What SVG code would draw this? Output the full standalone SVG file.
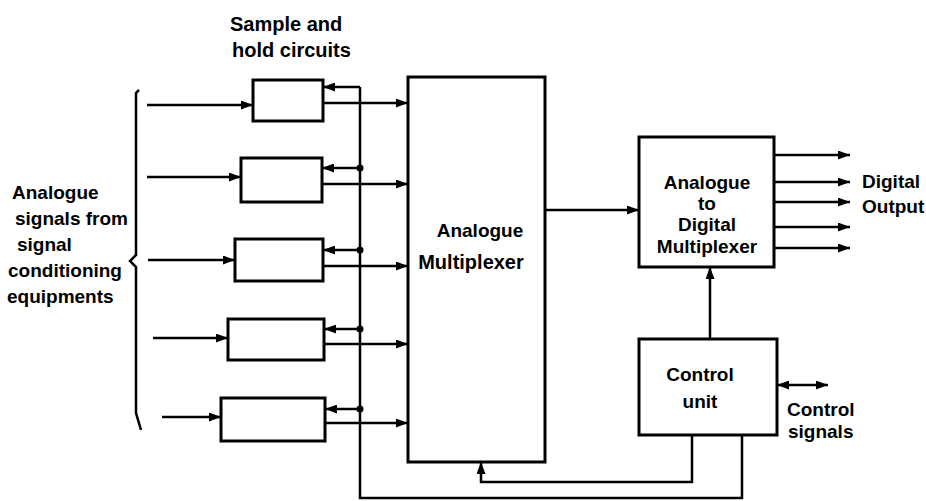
<svg xmlns="http://www.w3.org/2000/svg" width="926" height="501" viewBox="0 0 926 501">
<style>
.box{fill:#fff;stroke:#000;stroke-width:3}
.ln{fill:none;stroke:#000;stroke-width:2.5}
.ar{marker-end:url(#ah)}
text{font-family:"Liberation Sans",Arial,sans-serif;font-weight:bold;font-size:19px;fill:#000}
.c{text-anchor:middle}
.big{font-size:20px}
</style>
<defs>
<marker id="ah" markerUnits="userSpaceOnUse" markerWidth="13" markerHeight="9" refX="12" refY="4.5" orient="auto">
<path d="M0,0 L12,4.5 L0,9 z" fill="#000"/>
</marker>
<marker id="ahs" markerUnits="userSpaceOnUse" markerWidth="13" markerHeight="9" refX="0" refY="4.5" orient="auto">
<path d="M12,0 L0,4.5 L12,9 z" fill="#000"/>
</marker>
</defs>
<rect width="926" height="501" fill="#fff"/>

<g id="labels">
<text class="big" x="230" y="31">Sample and</text>
<text class="big" x="232" y="57">hold circuits</text>
<text x="12" y="199">Analogue</text>
<text x="15" y="225">signals from</text>
<text x="17" y="251">signal</text>
<text x="8" y="277">conditioning</text>
<text x="7" y="303">equipments</text>
<text x="862" y="188">Digital</text>
<text x="862" y="213">Output</text>
<text x="787" y="416">Control</text>
<text x="788" y="438">signals</text>
</g>

<g id="brace">
<path class="ln" d="M139,90 L136,93 L136,255 L130,261 L136,267 L136,413 L141,430" stroke-width="3"/>
</g>

<g id="sh1"><rect class="box" x="253" y="80" width="70" height="41"/></g>
<g id="sh2"><rect class="box" x="241" y="158" width="81" height="44"/></g>
<g id="sh3"><rect class="box" x="235" y="239" width="88" height="42"/></g>
<g id="sh4"><rect class="box" x="228" y="319" width="96" height="41"/></g>
<g id="sh5"><rect class="box" x="221" y="398" width="104" height="43"/></g>

<g id="mux">
<rect class="box" x="408" y="77" width="137" height="385"/>
<text class="c" x="480" y="237">Analogue</text>
<text class="c big" x="471" y="269">Multiplexer</text>
</g>

<g id="adc">
<rect class="box" x="639" y="137" width="135" height="130"/>
<text class="c" x="707" y="189">Analogue</text>
<text class="c" x="707" y="210">to</text>
<text class="c" x="707" y="231">Digital</text>
<text class="c" x="707" y="253">Multiplexer</text>
</g>

<g id="control">
<rect class="box" x="639" y="339" width="138" height="96"/>
<text class="c" x="700" y="381">Control</text>
<text class="c" x="700" y="408">unit</text>
</g>

<g id="connectors">
<path class="ln ar" d="M147,105 H253"/>
<path class="ln ar" d="M147,177 H241"/>
<path class="ln ar" d="M148,260 H235"/>
<path class="ln ar" d="M153,338 H228"/>
<path class="ln ar" d="M162,417 H221"/>
<path class="ln ar" d="M323,103 H408"/>
<path class="ln ar" d="M322,184 H408"/>
<path class="ln ar" d="M323,266 H408"/>
<path class="ln ar" d="M324,344 H408"/>
<path class="ln ar" d="M325,423 H408"/>
<path class="ln" d="M742,435 V498 H360 V87"/>
<path class="ln ar" d="M360,87 H323"/>
<path class="ln ar" d="M360,168 H322"/>
<path class="ln ar" d="M360,250 H323"/>
<path class="ln ar" d="M360,329 H324"/>
<path class="ln ar" d="M360,409 H325"/>
<circle cx="360" cy="168" r="3.5"/>
<circle cx="360" cy="250" r="3.5"/>
<circle cx="360" cy="329" r="3.5"/>
<circle cx="360" cy="409" r="3.5"/>
<path class="ln ar" d="M692,435 V482 H481 V462"/>
<path class="ln ar" d="M545,210 H639"/>
<path class="ln ar" d="M710,339 V267"/>
<path class="ln ar" d="M774,155 H850"/>
<path class="ln ar" d="M774,182 H850"/>
<path class="ln ar" d="M774,202 H850"/>
<path class="ln ar" d="M774,227 H850"/>
<path class="ln ar" d="M774,248 H850"/>
<path class="ln" d="M777,385 H828" stroke-width="2" marker-start="url(#ahs)" marker-end="url(#ah)"/>
</g>
</svg>
